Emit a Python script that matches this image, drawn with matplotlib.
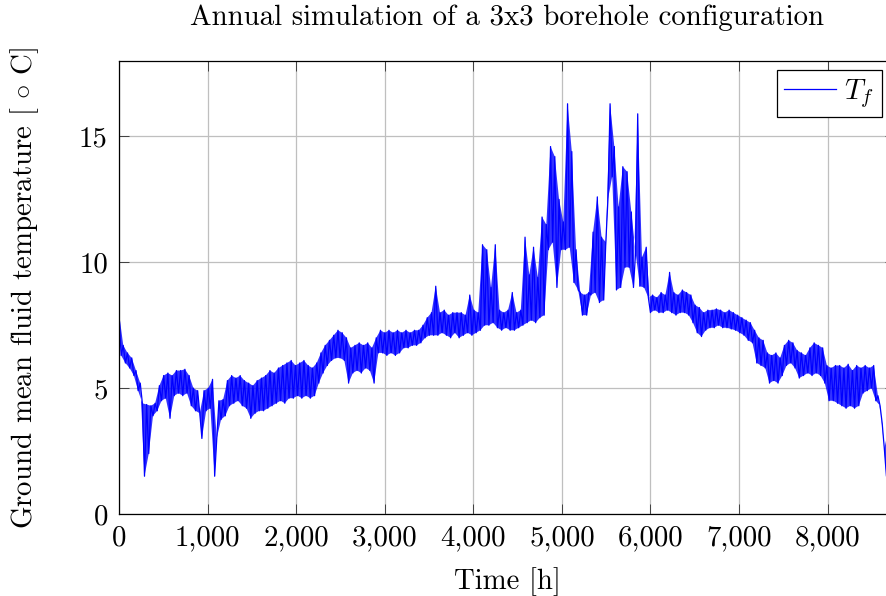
import numpy as np
import matplotlib
matplotlib.use("Agg")
import matplotlib.pyplot as plt
from matplotlib.ticker import FuncFormatter, MultipleLocator

plt.rcParams["font.family"] = "serif"
plt.rcParams["font.serif"] = ["cmr10"]
plt.rcParams["mathtext.fontset"] = "cm"
plt.rcParams["axes.formatter.use_mathtext"] = True

fontsize = 20.8
step_h = 24  # one reading every 24 h, alternating daily high / daily low

# mean fluid temperature, 10 readings (240 h) per row
t_f = [
    8.0, 6.3, 6.7, 6.0, 6.4, 5.8, 6.2, 5.5, 5.7, 4.9,      # 0
    5.2, 4.4, 1.5, 4.35, 2.4, 4.3, 3.9, 4.4, 4.1, 5.1,     # 240
    4.5, 5.5, 4.6, 5.6, 3.8, 5.5, 4.7, 5.7, 4.8, 5.7,      # 480
    4.7, 5.75, 4.8, 5.5, 4.3, 5.0, 4.1, 4.9, 4.0, 3.0,     # 720
    4.9, 4.1, 5.0, 4.2, 5.35, 1.5, 3.0, 4.5, 3.75, 4.55,   # 960
    3.9, 5.3, 4.3, 5.5, 4.4, 5.4, 4.5, 5.5, 4.3, 5.3,      # 1200
    4.2, 5.2, 3.8, 5.1, 4.0, 5.3, 4.1, 5.4, 4.1, 5.5,      # 1440
    4.2, 5.7, 4.3, 5.6, 4.4, 5.8, 4.5, 5.9, 4.4, 6.0,      # 1680
    4.6, 6.1, 4.6, 5.9, 4.7, 6.0, 4.6, 6.1, 4.7, 5.9,      # 1920
    4.6, 5.8, 4.7, 6.0, 5.2, 6.4, 5.6, 6.7, 5.9, 6.9,      # 2160
    6.1, 7.1, 6.2, 7.3, 6.2, 7.2, 6.1, 7.0, 5.2, 6.6,      # 2400
    5.6, 6.7, 5.7, 6.8, 5.6, 6.7, 5.8, 6.8, 5.7, 6.6,      # 2640
    5.2, 7.0, 6.4, 7.3, 6.4, 7.2, 6.3, 7.3, 6.4, 7.2,      # 2880
    6.3, 7.3, 6.4, 7.2, 6.6, 7.3, 6.6, 7.2, 6.7, 7.3,      # 3120
    6.7, 7.3, 6.8, 7.5, 7.0, 7.8, 7.1, 8.0, 7.1, 9.05,     # 3360
    7.1, 8.0, 7.2, 8.1, 7.1, 7.9, 7.0, 8.0, 7.2, 8.0,      # 3600
    7.0, 8.0, 7.1, 7.9, 7.2, 8.7, 7.1, 8.1, 7.2, 8.0,      # 3840
    7.3, 10.7, 7.5, 10.5, 7.5, 9.0, 7.6, 10.7, 7.4, 8.1,   # 4080
    7.3, 8.0, 7.4, 8.1, 7.3, 8.8, 7.3, 8.0, 7.4, 8.1,      # 4320
    7.5, 11.0, 7.6, 9.5, 7.7, 10.6, 7.6, 9.4, 7.8, 11.8,   # 4560
    7.9, 11.5, 10.5, 14.6, 10.8, 14.2, 9.0, 12.5, 10.5, 11.6,  # 4800
    10.5, 16.3, 10.6, 14.4, 9.2, 10.5, 8.9, 8.8, 7.9, 8.7,     # 5040
    7.9, 8.8, 8.7, 11.2, 8.8, 12.6, 8.4, 11.0, 8.5, 10.8,      # 5280
    12.5, 16.3, 13.4, 14.6, 8.9, 12.2, 9.0, 13.8, 9.8, 13.6,   # 5520
    9.8, 12.0, 9.0, 10.4, 15.9, 9.05, 10.2, 9.0, 10.6, 8.6,    # 5760
    8.0, 8.7, 8.1, 8.6, 8.0, 8.8, 8.0, 8.7, 8.1, 9.6,      # 6000
    8.0, 8.8, 7.9, 8.7, 8.0, 8.9, 8.0, 8.8, 7.9, 8.7,      # 6240
    7.6, 8.3, 7.2, 8.2, 7.05, 8.0, 7.3, 8.1, 7.4, 8.1,     # 6480
    7.4, 8.15, 7.5, 8.1, 7.4, 8.0, 7.4, 8.1, 7.35, 8.0,    # 6720
    7.3, 7.9, 7.2, 7.8, 7.1, 7.7, 6.9, 7.6, 6.8, 7.3,      # 6960
    6.0, 7.0, 5.9, 6.9, 5.8, 6.4, 5.2, 6.3, 5.3, 6.4,      # 7200
    5.2, 6.2, 5.5, 6.7, 5.9, 6.9, 6.0, 6.8, 5.8, 6.5,      # 7440
    5.4, 6.4, 5.5, 6.3, 5.6, 6.6, 5.5, 6.8, 5.6, 6.7,      # 7680
    5.5, 6.6, 5.2, 5.9, 4.5, 5.8, 4.5, 5.9, 4.4, 5.9,      # 7920
    4.3, 5.8, 4.2, 5.95, 4.3, 5.7, 4.2, 5.9, 4.3, 5.8,     # 8160
    4.8, 5.9, 4.9, 5.8, 5.0, 5.9, 4.5, 4.7, 4.3, 3.6,      # 8400
    2.6, 1.5, 3.4,                                         # 8640
]
hours = np.arange(len(t_f)) * step_h
t_f = np.array(t_f)

fig = plt.figure(figsize=(8.86, 5.96), dpi=100)
ax = fig.add_axes([0.1343, 0.1376, 0.8758, 0.7601])

# the hourly trace swings every day, so it reads as a dense band: shade between
# the alternating readings and draw the trace over it
band_x = np.r_[hours[0::2], hours[1::2][::-1]]
band_y = np.r_[t_f[0::2], t_f[1::2][::-1]]
ax.fill(band_x, band_y, color="#0000ff", alpha=0.8, linewidth=0)
ax.plot(hours, t_f, color="#0000ff", linewidth=0.9, label=r"$T_f$")

ax.set_xlim(0, 8760)
ax.set_ylim(0, 18)
ax.xaxis.set_major_locator(MultipleLocator(1000))
ax.yaxis.set_major_locator(MultipleLocator(5))
ax.xaxis.set_major_formatter(FuncFormatter(lambda v, p: f"{v:,.0f}"))
ax.yaxis.set_major_formatter(FuncFormatter(lambda v, p: f"{v:.0f}"))

ax.grid(True, color="#bfbfbf", linewidth=0.9)
ax.set_axisbelow(True)
ax.tick_params(axis="both", which="major", direction="in", length=7, width=0.7,
               color="#404040", labelsize=fontsize, top=True, right=True, pad=8)
for s in ax.spines.values():
    s.set_linewidth(0.9)

ax.set_title("Annual simulation of a 3x3 borehole configuration", fontsize=fontsize, pad=26)
ax.set_xlabel("Time [h]", fontsize=fontsize, labelpad=11)
ax.set_ylabel(r"Ground mean fluid temperature [ $\circ$ C]", fontsize=fontsize)
ax.yaxis.set_label_coords(-0.1, 0.5)

leg = ax.legend(loc="upper right", bbox_to_anchor=(0.983, 0.98), fontsize=fontsize,
                frameon=True, fancybox=False, framealpha=1, edgecolor="black",
                handlelength=1.8, handletextpad=0.3, borderpad=0.25, borderaxespad=0)
leg.get_frame().set_linewidth(0.9)

plt.savefig("out.png", dpi=100)
